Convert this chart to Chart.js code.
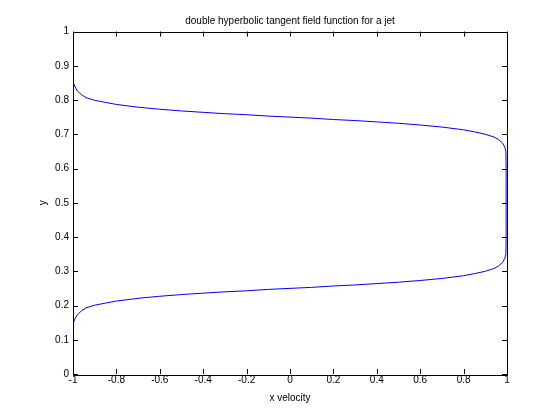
<!DOCTYPE html>
<html lang="en">
<head>
    <meta charset="UTF-8">
    <title>double hyperbolic tangent field function for a jet</title>
    <script src="https://cdn.jsdelivr.net/npm/chart.js"></script>
    <style>
        html, body { margin: 0; padding: 0; background: #fff; }
        #wrap { width: 560px; height: 420px; }
    </style>
</head>
<body>
    <div id="wrap"><canvas id="grafico" width="560" height="420"></canvas></div>
</body>
</html>
<script>
    // values, bottom branch -> plateau -> top branch
    const velX = [
        -0.997, -0.99, -0.98, -0.96, -0.94, -0.9, -0.85, -0.8, -0.7, -0.6, -0.5, -0.4, -0.3, -0.2, -0.1,
        0, 0.1, 0.2, 0.3, 0.4, 0.5, 0.6, 0.7, 0.8, 0.85, 0.9, 0.94, 0.96, 0.98, 0.99,
        0.995, 0.996, 0.996, 0.996, 0.995,
        0.99, 0.98, 0.96, 0.94, 0.9, 0.85, 0.8, 0.7, 0.6, 0.5, 0.4, 0.3, 0.2, 0.1,
        0, -0.1, -0.2, -0.3, -0.4, -0.5, -0.6, -0.7, -0.8, -0.85, -0.9, -0.94, -0.96, -0.98, -0.99, -0.997
    ]
    const posY = [
        0.152, 0.162, 0.173, 0.185, 0.193, 0.201, 0.207, 0.213, 0.221, 0.227, 0.232, 0.236, 0.240, 0.243, 0.247,
        0.250, 0.253, 0.257, 0.260, 0.264, 0.268, 0.273, 0.279, 0.287, 0.293, 0.300, 0.308, 0.315, 0.326, 0.338,
        0.350, 0.400, 0.500, 0.600, 0.650,
        0.662, 0.674, 0.685, 0.692, 0.700, 0.707, 0.713, 0.721, 0.727, 0.732, 0.736, 0.740, 0.743, 0.747,
        0.750, 0.753, 0.757, 0.760, 0.764, 0.768, 0.773, 0.779, 0.787, 0.793, 0.799, 0.807, 0.815, 0.826, 0.838, 0.848
    ]
    const xTicks = [-1, -0.8, -0.6, -0.4, -0.2, 0, 0.2, 0.4, 0.6, 0.8, 1]
    const xTickLabels = ['-1', '-0.8', '-0.6', '-0.4', '-0.2', '0', '0.2', '0.4', '0.6', '0.8', '1']
    const yTicks = [0, 0.1, 0.2, 0.3, 0.4, 0.5, 0.6, 0.7, 0.8, 0.9, 1]
    const yTickLabels = ['0', '0.1', '0.2', '0.3', '0.4', '0.5', '0.6', '0.7', '0.8', '0.9', '1']

    const pontos = []
    for (let i = 0; i < velX.length; i++) {
        pontos.push({ x: velX[i], y: posY[i] })
    }

    const fonte = { family: "'Liberation Sans', Arial, sans-serif", size: 10 }

    // caixa do eixo com marcas para dentro, estilo matlab
    const caixa = {
        id: 'caixa',
        afterDraw(chart) {
            const c = chart.ctx
            const a = chart.chartArea
            const sx = chart.scales.x
            const sy = chart.scales.y
            const tam = 5
            c.save()
            c.strokeStyle = '#000'
            c.lineWidth = 1
            c.beginPath()
            c.rect(Math.round(a.left) + 0.5, Math.round(a.top) + 0.5, Math.round(a.right - a.left), Math.round(a.bottom - a.top))
            for (const v of xTicks) {
                const px = Math.round(sx.getPixelForValue(v)) + 0.5
                c.moveTo(px, a.bottom); c.lineTo(px, a.bottom - tam)
                c.moveTo(px, a.top); c.lineTo(px, a.top + tam)
            }
            for (const v of yTicks) {
                const py = Math.round(sy.getPixelForValue(v)) + 0.5
                c.moveTo(a.left, py); c.lineTo(a.left + tam, py)
                c.moveTo(a.right, py); c.lineTo(a.right - tam, py)
            }
            c.stroke()
            c.restore()
        }
    }

    const ctx = document.getElementById('grafico')

    const chart1 = new Chart(ctx, {
        type: 'scatter',
        data: {
            datasets: [{
                data: pontos,
                showLine: true,
                borderColor: '#0000ff',
                borderWidth: 1,
                pointRadius: 0,
                tension: 0
            }]
        },
        options: {
            responsive: false,
            animation: false,
            layout: { padding: { left: 20, right: 0, top: 0, bottom: 0 } },
            plugins: {
                legend: { display: false },
                tooltip: { enabled: false },
                title: {
                    display: true,
                    text: 'double hyperbolic tangent field function for a jet',
                    color: '#000',
                    font: { family: fonte.family, size: 10, weight: 'normal' },
                    padding: { top: 15, bottom: 4.5 }
                }
            },
            scales: {
                x: {
                    min: -1,
                    max: 1,
                    grid: { display: false, drawTicks: false },
                    border: { display: false },
                    afterBuildTicks: (s) => { s.ticks = xTicks.map(v => ({ value: v })) },
                    afterFit: (s) => { s.height = 46 },
                    ticks: {
                        color: '#000',
                        font: fonte,
                        padding: 0,
                        maxRotation: 0,
                        autoSkip: false,
                        callback: (v, i) => xTickLabels[i]
                    },
                    title: {
                        display: true,
                        text: 'x velocity',
                        color: '#000',
                        font: fonte,
                        padding: { top: 0, bottom: 16 }
                    }
                },
                y: {
                    min: 0,
                    max: 1,
                    grid: { display: false, drawTicks: false },
                    border: { display: false },
                    afterBuildTicks: (s) => { s.ticks = yTicks.map(v => ({ value: v })) },
                    afterFit: (s) => { s.width = 53 },
                    ticks: {
                        color: '#000',
                        font: fonte,
                        padding: 4,
                        autoSkip: false,
                        callback: (v, i) => yTickLabels[i]
                    },
                    title: {
                        display: true,
                        text: 'y',
                        color: '#000',
                        font: fonte,
                        padding: { top: 17, bottom: 0 }
                    }
                },
                // eixo vazio a direita so para reservar a margem
                y2: {
                    position: 'right',
                    min: 0,
                    max: 1,
                    grid: { display: false, drawTicks: false },
                    border: { display: false },
                    ticks: { display: false },
                    afterFit: (s) => { s.width = 53 }
                }
            }
        },
        plugins: [caixa]
    })
</script>
